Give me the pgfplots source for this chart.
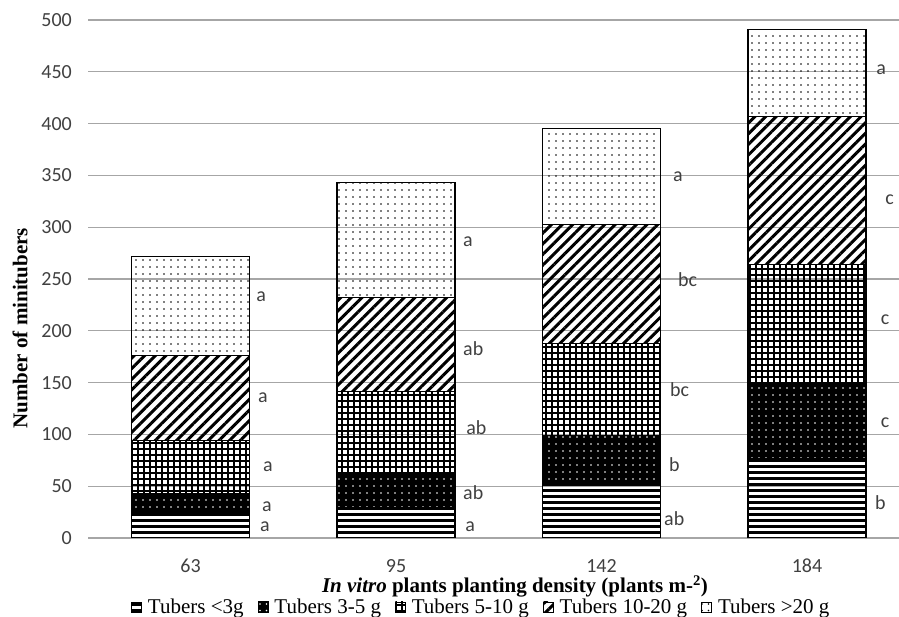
\documentclass[border=0pt]{standalone}
\usepackage{fontspec}
\setmainfont{Liberation Serif}
\newfontfamily\calib{Carlito}
\usepackage{pgfplots}
\pgfplotsset{compat=1.18}
\usetikzlibrary{patterns.meta}
\definecolor{gridgray}{HTML}{A6A6A6}
\definecolor{ticktext}{HTML}{404040}
\pgfplotsset{sqleg/.style={legend image code/.code={\draw[##1,line width=0.8pt] (0pt,-5pt) rectangle (10pt,5pt);}}}
\begin{document}
\begin{tikzpicture}[x=1pt,y=1pt]
\path[use as bounding box] (0,0) rectangle (899,617);
\begin{axis}[
  at={(88pt,79pt)}, anchor=south west,
  scale only axis, width=811pt, height=518pt,
  ybar stacked, bar width=118pt,
  xmin=-0.4988, xmax=3.4477, ymin=0, ymax=500,
  xtick={0,1,2,3}, xticklabels={63,95,142,184},
  ytick={0,50,...,500},
  ymajorgrids, major grid style={gridgray, line width=1.3pt},
  axis line style={draw=none}, tick style={draw=none},
  /pgf/number format/assume math mode=true,
  ticklabel style={font=\calib\fontsize{20}{24}\selectfont, text=ticktext},
  yticklabel style={inner sep=0pt, anchor=east, xshift=-16pt},
  xticklabel style={inner sep=0pt, anchor=base, yshift=-34.5pt},
  xlabel={\textbf{\textit{In vitro} plants planting density (plants m-\textsuperscript{2})}},
  xlabel style={font=\fontsize{21}{24}\selectfont, at={(axis description cs:0.5265,0)}, anchor=base, yshift=-55pt, inner sep=0pt},
  ylabel={\textbf{Number of minitubers}},
  ylabel style={font=\fontsize{21}{24}\selectfont, at={(axis description cs:-0.0838,0.405)}, anchor=center, inner sep=0pt},
  legend columns=5,
  legend style={draw=none, fill=none, font=\fontsize{21}{24}\selectfont,
    /tikz/every odd column/.append style={column sep=4pt},
    /tikz/every even column/.append style={column sep=12pt},
    at={(axis description cs:0.485,-0.1525)}, anchor=south, inner sep=0pt, outer sep=0pt},
  legend cell align=left,
]
\addplot[sqleg, draw=black, line width=1.1pt, pattern={Lines[angle=0,distance=6pt,line width=3pt]}, pattern color=black]
  coordinates {(0,24) (1,29) (2,51) (3,77)};
\addplot[sqleg, draw=black, line width=1.1pt, preaction={fill=black}, pattern={Dots[radius=0.9pt,distance=6.5pt]}, pattern color=white]
  coordinates {(0,19) (1,33) (2,48) (3,72)};
\addplot[sqleg, draw=black, line width=1.1pt, pattern={Hatch[angle=0,distance=6pt,line width=1.5pt]}, pattern color=black]
  coordinates {(0,51) (1,79) (2,89) (3,115)};
\addplot[sqleg, draw=black, line width=1.1pt, pattern={Lines[angle=45,distance=7.5pt,line width=3pt]}, pattern color=black]
  coordinates {(0,82) (1,91) (2,115) (3,143)};
\addplot[sqleg, draw=black, line width=1.1pt, pattern={Dots[radius=0.95pt,distance=6.5pt]}, pattern color=black]
  coordinates {(0,96) (1,111) (2,92) (3,84)};
\legend{Tubers <3g, Tubers 3-5 g, Tubers 5-10 g, Tubers 10-20 g, Tubers >20 g}
\tikzset{lab/.style={anchor=west, inner sep=0pt, font=\calib\fontsize{20}{24}\selectfont, text=ticktext}}
\node[lab] at (axis cs:0.319,232.6) {a};
\node[lab] at (axis cs:0.328,135.1) {a};
\node[lab] at (axis cs:0.353,68.5) {a};
\node[lab] at (axis cs:0.348,29.9) {a};
\node[lab] at (axis cs:0.338,10.6) {a};
\node[lab] at (axis cs:1.326,286) {a};
\node[lab] at (axis cs:1.326,182.4) {ab};
\node[lab] at (axis cs:1.341,106.2) {ab};
\node[lab] at (axis cs:1.326,43.7) {ab};
\node[lab] at (axis cs:1.336,10.9) {a};
\node[lab] at (axis cs:2.347,348.7) {a};
\node[lab] at (axis cs:2.372,249) {bc};
\node[lab] at (axis cs:2.333,142.9) {bc};
\node[lab] at (axis cs:2.328,70.5) {b};
\node[lab] at (axis cs:2.304,18.3) {ab};
\node[lab] at (axis cs:3.336,451.7) {a};
\node[lab] at (axis cs:3.380,326.3) {c};
\node[lab] at (axis cs:3.359,210.4) {c};
\node[lab] at (axis cs:3.359,111) {c};
\node[lab] at (axis cs:3.331,33.8) {b};
\end{axis}
\end{tikzpicture}
\end{document}
